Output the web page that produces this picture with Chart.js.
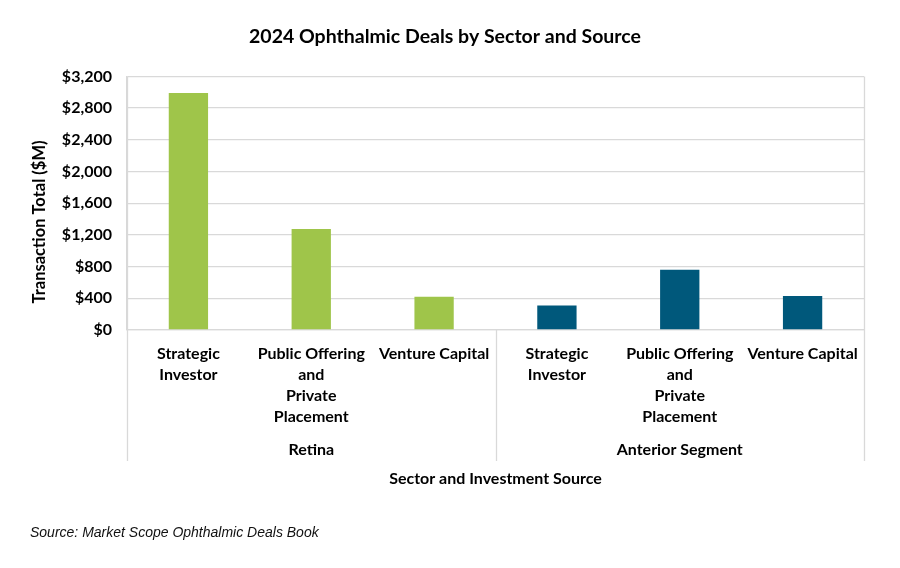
<!DOCTYPE html>
<html>
<head>
<meta charset="utf-8">
<script src="https://cdn.jsdelivr.net/npm/chart.js@4.4.1/dist/chart.umd.min.js"></script>
<style>
  html, body { margin: 0; padding: 0; background: #fff; }
  #wrap { width: 900px; height: 568px; }
</style>
</head>
<body>
<div id="wrap"><canvas id="chart" width="900" height="568"></canvas></div>
<script>
const sectors = ['Retina', 'Anterior Segment'];
const sources = [
  ['Strategic', 'Investor'],
  ['Public Offering', 'and', 'Private', 'Placement'],
  ['Venture Capital']
];
const retinaValues = [2990, 1275, 420];
const anteriorValues = [310, 760, 430];
const sectorColors = ['#9fc54a', '#00587b'];

const labels = [...sources, ...sources];
const values = [...retinaValues, ...anteriorValues];
const colors = labels.map((_, i) => sectorColors[Math.floor(i / sources.length)]);

const FONT = 'Lato, "Open Sans", sans-serif';
const GRID = '#d9d9d9';
const GROUP_BOTTOM = 461;

// second row of the category axis, y title and source note
const extras = {
  id: 'extras',
  afterDraw(chart) {
    const { ctx, chartArea, scales: { x } } = chart;
    const n = sources.length;
    const edges = [chartArea.left];
    for (let s = 1; s < sectors.length; s++) {
      edges.push((x.getPixelForTick(s * n - 1) + x.getPixelForTick(s * n)) / 2);
    }
    edges.push(chartArea.right);

    ctx.save();
    ctx.strokeStyle = GRID;
    ctx.lineWidth = 1.3;
    edges.forEach((px, i) => {
      const top = (i === 0 || i === edges.length - 1) ? chartArea.top : chartArea.bottom;
      ctx.beginPath();
      ctx.moveTo(Math.round(px) + 0.5, top);
      ctx.lineTo(Math.round(px) + 0.5, GROUP_BOTTOM);
      ctx.stroke();
    });

    ctx.fillStyle = '#000';
    ctx.font = 'bold 16px ' + FONT;
    ctx.textAlign = 'center';
    ctx.textBaseline = 'middle';
    sectors.forEach((name, i) => {
      ctx.fillText(name, (edges[i] + edges[i + 1]) / 2, 450);
    });

    ctx.save();
    ctx.translate(40, 222);
    ctx.rotate(-Math.PI / 2);
    ctx.font = 'bold 16.5px ' + FONT;
    ctx.fillText('Transaction Total ($M)', 0, 0);
    ctx.restore();

    ctx.fillStyle = '#111';
    ctx.textAlign = 'left';
    ctx.font = 'italic 14px "Liberation Sans", Arial, sans-serif';
    ctx.fillText('Source: Market Scope Ophthalmic Deals Book', 30, 533);
    ctx.restore();
  }
};

new Chart(document.getElementById('chart'), {
  type: 'bar',
  data: {
    labels,
    datasets: [{
      data: values,
      backgroundColor: colors,
      borderWidth: 0,
      barPercentage: 0.32,
      categoryPercentage: 1
    }]
  },
  options: {
    responsive: false,
    animation: false,
    layout: { padding: { left: 26, right: 36, top: 0, bottom: 0 } },
    plugins: {
      legend: { display: false },
      tooltip: { enabled: false },
      title: {
        display: true,
        text: '2024 Ophthalmic Deals by Sector and Source',
        color: '#000',
        font: { family: FONT, size: 19.5, weight: 'bold' },
        padding: { top: 25, bottom: 28 }
      }
    },
    scales: {
      x: {
        afterFit(scale) { scale.height = 238; },
        grid: { display: false, drawTicks: false },
        border: { display: true, color: GRID, width: 1.3 },
        ticks: {
          color: '#000',
          font: { family: FONT, size: 16, weight: 'bold', lineHeight: 1.3125 },
          padding: 13.5,
          maxRotation: 0,
          autoSkip: false
        },
        title: {
          display: true,
          text: 'Sector and Investment Source',
          color: '#000',
          font: { family: FONT, size: 16, weight: 'bold' },
          padding: { top: 0, bottom: 80 }
        }
      },
      y: {
        min: 0,
        max: 3200,
        afterFit(scale) { scale.width = 101; },
        grid: { color: GRID, lineWidth: 1.3, drawTicks: false },
        border: { display: true, color: GRID, width: 1.3 },
        ticks: {
          stepSize: 400,
          color: '#000',
          padding: 15,
          font: { family: FONT, size: 16, weight: 'bold' },
          callback: v => '$' + v.toLocaleString('en-US')
        }
      }
    }
  },
  plugins: [extras]
});
</script>
</body>
</html>
